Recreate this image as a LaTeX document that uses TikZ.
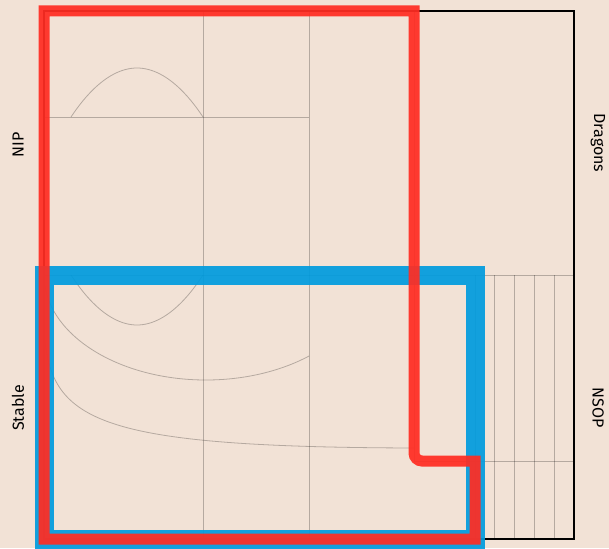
\documentclass[tikz,border=0pt]{standalone}
\usepackage{fontspec}
\setsansfont{Fira Sans}
\usetikzlibrary{positioning}
\definecolor{paper}{RGB}{242,226,214}
\definecolor{nipred}{RGB}{255,45,35}
\definecolor{stableblue}{RGB}{0,155,222}

\begin{document}
\begin{tikzpicture}[
    x=1pt,
    y=-1pt,
    line cap=butt,
    grid/.style={draw=black,opacity=0.25,line width=0.8pt},
    classname/.style={font=\sffamily\fontsize{16}{16}\selectfont,inner sep=0pt}
]

% page
\useasboundingbox (0,0) rectangle (609,548);
\fill[paper] (0,0) rectangle (609,548);

% grid
\draw[grid] (203,11) -- (203,539);
\draw[grid] (309,11) -- (309,539);
\draw[grid] (414,11) -- (414,461);
\draw[grid] (44,117) -- (309,117);
\draw[grid] (44,275) -- (574,275);
\draw[grid] (414,461) -- (574,461);
\foreach \i in {0,...,4}
    \draw[grid] ({475+19.8*\i},275) -- ({475+19.8*\i},539);

% curves
\draw[grid] (71,117) parabola bend (137,68) (203,117);
\draw[grid] (71,275) parabola bend (137,325) (203,275);
\draw[grid] (44,275) arc[start angle=180,end angle=50.5,x radius=162,y radius=105];
\draw[grid] (44,330) .. controls (50,420) and (90,447) .. (414,448);

% frame
\draw[line width=1.1pt] (44,11) rectangle (574,539);

% Stable
\draw[stableblue,opacity=0.92,line width=19pt]
    (44,275) rectangle (475,539);

% NIP
\draw[nipred,opacity=0.93,line width=11pt]
    (44,11) -- (414,11) [rounded corners=8pt] -- (414,461)
    [sharp corners] -- (475,461) -- (475,539) -- (44,539) -- cycle;

% labels
\node[classname,rotate=90] (nip) at (18,145) {NIP};
\node[classname,rotate=90] (stable) at (18,408) {Stable};
\node[classname,rotate=-90] (dragons) at (598,143) {Dragons};
\node[classname,rotate=-90] (nsop) at (598,408) {NSOP};

\end{tikzpicture}
\end{document}
